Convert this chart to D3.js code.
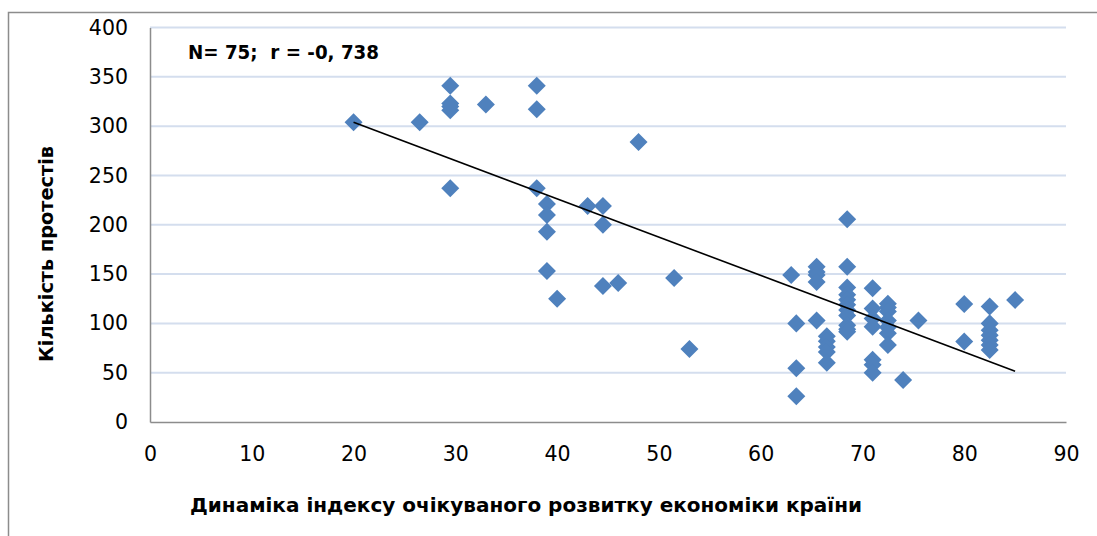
<!DOCTYPE html>
<html>
<head>
<meta charset="utf-8">
<script src="https://cdn.jsdelivr.net/npm/d3@7"></script>
<style>
  html, body { margin: 0; padding: 0; background: #fff; }
  svg { display: block; }
</style>
</head>
<body>
<svg id="chart" width="1097" height="536"></svg>
<script>
// ---- data ----
const xValues = [
  20, 26.5, 29.5, 29.5, 29.5, 29.5, 33, 38, 38, 48, 29.5, 38, 39, 39, 39, 43, 44.5, 44.5, 39, 40, 44.5, 46, 51.5, 53,
  68.5, 63, 65.5, 65.5, 65.5, 65.5, 68.5, 68.5, 68.5, 68.5, 68.5, 68.5, 68.5, 68.5, 68.5, 68.5,
  71, 71, 71, 71, 72.5, 72.5, 72.5, 72.5, 72.5, 72.5, 72.5, 71, 71, 71, 74, 75.5,
  63.5, 63.5, 63.5, 65.5, 66.5, 66.5, 66.5, 66.5, 66.5,
  80, 80, 82.5, 82.5, 82.5, 82.5, 82.5, 82.5, 82.5, 85
];
const yValues = [
  304, 304, 341, 323, 316, 320, 322, 341, 317, 284, 237, 237, 221, 210, 193, 219, 219, 200, 153, 125, 138, 141, 146, 74,
  205.5, 149, 157.5, 152, 149, 142, 157.5, 136.5, 129, 124, 119, 113.5, 108, 98, 94, 91.5,
  135.5, 115, 105, 96.6, 120, 116, 112, 103, 96, 90, 78, 63, 58, 50, 42.6, 103,
  100, 54.5, 26, 103, 87, 82, 76, 71, 60,
  119.6, 81.5, 117, 100, 93, 88, 83, 78, 73, 123.7
];
const trendX = [20, 85];
const trendY = [304, 51.5];
const xTicks = [0, 10, 20, 30, 40, 50, 60, 70, 80, 90];
const yTicks = [0, 50, 100, 150, 200, 250, 300, 350, 400];
const xTitle = "Динаміка індексу очікуваного розвитку економіки країни";
const yTitle = "Кількість протестів";
const annotation = "N= 75;  r = -0, 738";

// ---- layout ----
const svg = d3.select("#chart");
const plotLeft = 150, plotRight = 1066, plotTop = 27.5, plotBottom = 422;
const x = d3.scaleLinear().domain([0, 90]).range([plotLeft, plotRight]);
const y = d3.scaleLinear().domain([0, 400]).range([plotBottom, plotTop]);
const font = "'DejaVu Sans', sans-serif";

// outer chart frame
svg.append("rect")
  .attr("x", 8.5).attr("y", 12.5).attr("width", 1200).attr("height", 600)
  .attr("fill", "#fff").attr("stroke", "#8c8c8c").attr("stroke-width", 1.5);

// gridlines
svg.append("g")
  .selectAll("line").data(yTicks.filter(d => d > 0)).join("line")
  .attr("x1", plotLeft).attr("x2", plotRight)
  .attr("y1", d => y(d)).attr("y2", d => y(d))
  .attr("stroke", "#d4deee").attr("stroke-width", 2);

// y axis
const yAxis = svg.append("g").attr("transform", `translate(${plotLeft},0)`)
  .call(d3.axisLeft(y).tickValues(yTicks).tickSize(0).tickPadding(22));
yAxis.select(".domain").attr("stroke", "#8c8c8c").attr("stroke-width", 1.5);
yAxis.selectAll("text").attr("font-family", font).attr("font-size", 20.5).attr("fill", "#000");

// x axis
const xAxis = svg.append("g").attr("transform", `translate(0,${plotBottom})`)
  .call(d3.axisBottom(x).tickValues(xTicks).tickSize(0).tickPadding(24));
xAxis.select(".domain").attr("stroke", "#8c8c8c").attr("stroke-width", 1.5);
xAxis.selectAll("text").attr("font-family", font).attr("font-size", 20.5).attr("fill", "#000");

// points
const pts = xValues.map((v, i) => ({ x: v, y: yValues[i] }));
svg.append("g").selectAll("path").data(pts).join("path")
  .attr("d", d3.symbol(d3.symbolSquare, 162))
  .attr("transform", d => `translate(${x(d.x)},${y(d.y)}) rotate(45)`)
  .attr("fill", "#4f81bd");

// trend line
svg.append("path")
  .datum(trendX.map((v, i) => [v, trendY[i]]))
  .attr("d", d3.line().x(d => x(d[0])).y(d => y(d[1])))
  .attr("fill", "none").attr("stroke", "#000").attr("stroke-width", 1.6);

// annotation
svg.append("text")
  .attr("x", 188).attr("y", 59)
  .attr("font-family", font).attr("font-weight", "bold").attr("font-size", 19)
  .attr("textLength", 191).attr("lengthAdjust", "spacingAndGlyphs")
  .attr("xml:space", "preserve")
  .text(annotation);

// x title
svg.append("text")
  .attr("x", 190).attr("y", 512)
  .attr("font-family", font).attr("font-weight", "bold").attr("font-size", 19)
  .attr("textLength", 672).attr("lengthAdjust", "spacingAndGlyphs")
  .text(xTitle);

// y title
svg.append("text")
  .attr("transform", "translate(53,362) rotate(-90)")
  .attr("font-family", font).attr("font-weight", "bold").attr("font-size", 19)
  .attr("textLength", 216).attr("lengthAdjust", "spacingAndGlyphs")
  .text(yTitle);
</script>
</body>
</html>
